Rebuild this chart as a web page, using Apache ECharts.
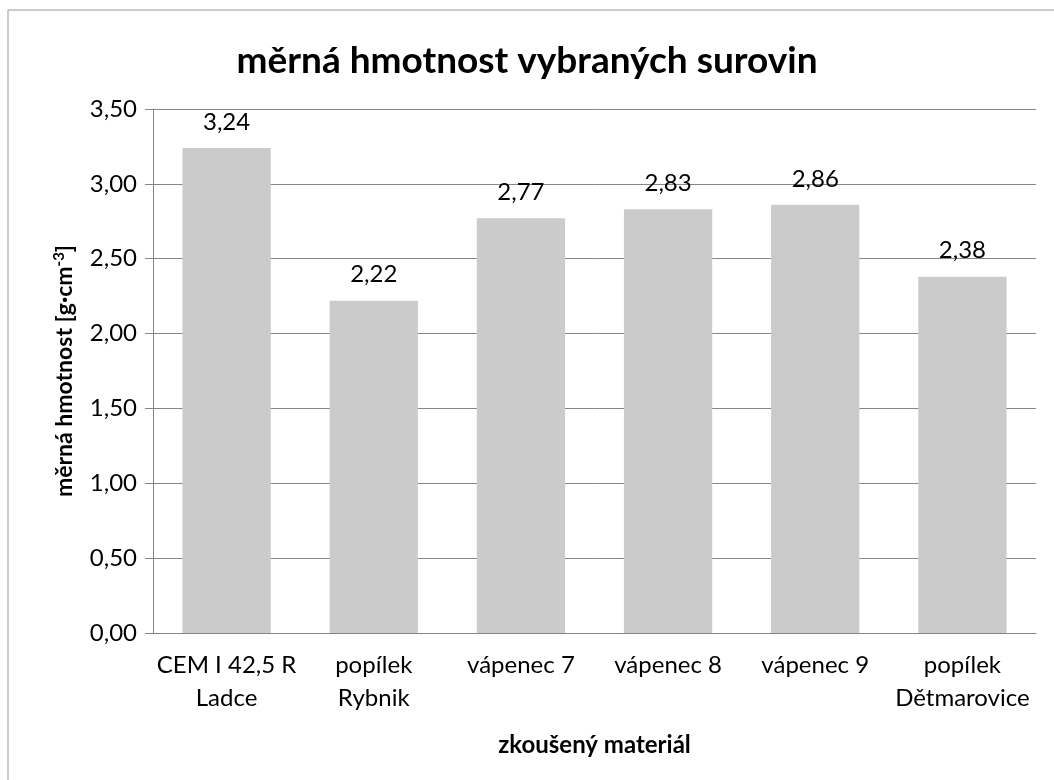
<!DOCTYPE html>
<html lang="cs">
<head>
<meta charset="UTF-8">
<title>měrná hmotnost vybraných surovin</title>
<script src="https://cdn.jsdelivr.net/npm/echarts@6/dist/echarts.min.js"></script>
<style>
  html, body { margin: 0; padding: 0; background: #fff; }
  #main { width: 1054px; height: 780px; }
</style>
</head>
<body>
<div id="main"></div>
<script>
// data
var categories = ['CEM I 42,5 R\nLadce', 'popílek\nRybnik', 'vápenec 7', 'vápenec 8', 'vápenec 9', 'popílek\nDětmarovice'];
var values = [3.24, 2.22, 2.77, 2.83, 2.86, 2.38];

var fontFam = 'Lato, "Open Sans", sans-serif';
function comma(v) { return Number(v).toFixed(2).replace('.', ','); }

var myChart = echarts.init(document.getElementById('main'));

var option = {
  animation: false,
  textStyle: { fontFamily: fontFam },
  title: {
    text: 'měrná hmotnost vybraných surovin',
    left: 'center',
    top: 38,
    textStyle: { fontSize: 37, fontWeight: 'bold', color: '#000', fontFamily: fontFam }
  },
  // chart border (only top & left visible in the picture)
  graphic: [{
    type: 'rect',
    shape: { x: 8, y: 10, width: 1100, height: 800 },
    style: { fill: 'none', stroke: '#9a9a9a', lineWidth: 1 },
    silent: true
  }],
  grid: { left: 153, right: 18, top: 109, bottom: 147 },
  xAxis: {
    type: 'category',
    data: categories,
    name: 'zkoušený materiál',
    nameLocation: 'middle',
    nameGap: 100,
    nameTextStyle: { fontSize: 24, fontWeight: 'bold', color: '#000', fontFamily: fontFam },
    axisLine: { lineStyle: { color: '#868686', width: 1 } },
    axisTick: { show: false },
    axisLabel: { fontSize: 24, color: '#000', margin: 16, lineHeight: 33, interval: 0, fontFamily: fontFam }
  },
  yAxis: {
    type: 'value',
    min: 0,
    max: 3.5,
    interval: 0.5,
    name: 'měrná hmotnost [g·cm{sup|-3}]',
    nameLocation: 'middle',
    nameGap: 76,
    nameTextStyle: {
      fontSize: 23, fontWeight: 'bold', color: '#000', fontFamily: fontFam,
      rich: {
        sup: { fontSize: 15, fontWeight: 'bold', color: '#000', fontFamily: fontFam, padding: [0, 0, 10, 0] }
      }
    },
    axisLine: { show: true, lineStyle: { color: '#868686', width: 1 } },
    axisTick: { show: true, length: 8, lineStyle: { color: '#868686' } },
    axisLabel: { fontSize: 24, color: '#000', margin: 16, formatter: comma, fontFamily: fontFam },
    splitLine: { lineStyle: { color: '#868686', width: 1 } }
  },
  series: [{
    type: 'bar',
    data: values,
    barWidth: '60%',
    itemStyle: { color: '#cbcbcb' },
    label: {
      show: true,
      position: 'top',
      distance: 14,
      fontSize: 24,
      color: '#000',
      fontFamily: fontFam,
      formatter: function (p) { return comma(p.value); }
    }
  }]
};

myChart.setOption(option);
</script>
</body>
</html>
